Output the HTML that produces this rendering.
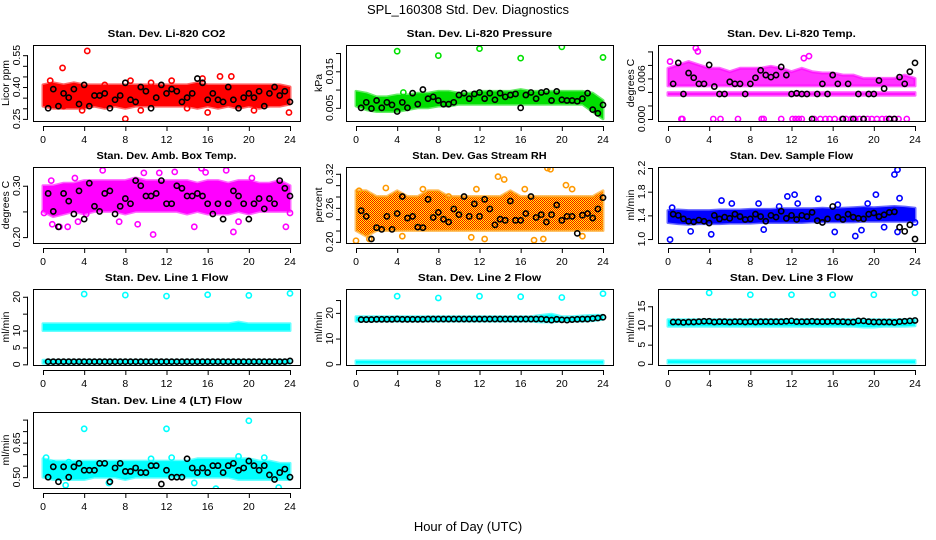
<!DOCTYPE html>
<html><head><meta charset="utf-8">
<style>
html,body{margin:0;padding:0;background:#fff;}
svg{display:block;font-family:"Liberation Sans",Arial,sans-serif;}
</style></head>
<body>
<svg id="chart" width="936" height="540" viewBox="0 0 936 540" xmlns="http://www.w3.org/2000/svg">
<defs>
<pattern id="rhpat" width="2" height="2" patternUnits="userSpaceOnUse"><rect width="2" height="2" fill="#ffff00"/><rect width="1" height="1" fill="#ff0000"/><rect x="1" y="1" width="1" height="1" fill="#ff0000"/></pattern>
</defs>
<text x="468" y="14" text-anchor="middle" font-size="13">SPL_160308  Std. Dev. Diagnostics</text>
<text x="468" y="531" text-anchor="middle" font-size="13">Hour of Day (UTC)</text>
</svg>
<script>
// ---------- data ----------
const hours = [0,1,2,3,4,5,6,7,8,9,10,11,12,13,14,15,16,17,18,19,20,21,22,23,24];
const blackHours = [0.5,1,1.5,2,2.5,3,3.5,4,4.5,5,5.5,6,6.5,7,7.5,8,8.5,9,9.5,10,10.5,11,11.5,12,12.5,13,13.5,14,14.5,15,15.5,16,16.5,17,17.5,18,18.5,19,19.5,20,20.5,21,21.5,22,22.5,23,23.5,24];

const co2Low  = [0.31,0.30,0.30,0.30,0.30,0.31,0.30,0.31,0.30,0.31,0.31,0.31,0.31,0.31,0.31,0.30,0.31,0.30,0.31,0.30,0.31,0.30,0.31,0.31,0.32];
const co2High = [0.41,0.42,0.41,0.42,0.41,0.41,0.41,0.41,0.41,0.41,0.41,0.41,0.41,0.41,0.41,0.42,0.41,0.41,0.41,0.41,0.41,0.41,0.41,0.41,0.40];
const co2OutX = [0.7,1.9,4.3,8,8.5,9.5,15.5,16,17.2,18.3,23.9,2,12.5,20.5,6,3.8,10.5,14];
const co2OutY = [0.43,0.49,0.57,0.25,0.43,0.29,0.44,0.28,0.45,0.45,0.28,0.31,0.43,0.29,0.41,0.29,0.42,0.30];
const co2Black = [0.30,0.39,0.31,0.37,0.35,0.39,0.32,0.41,0.31,0.36,0.36,0.37,0.30,0.34,0.36,0.42,0.34,0.33,0.40,0.38,0.30,0.35,0.41,0.37,0.39,0.38,0.33,0.35,0.37,0.44,0.42,0.34,0.37,0.34,0.33,0.40,0.34,0.30,0.35,0.37,0.35,0.38,0.31,0.37,0.40,0.36,0.38,0.33];

const presLow  = [0.0055,0.0045,0.0040,0.0040,0.0040,0.0045,0.0050,0.0050,0.0055,0.0055,0.0060,0.0060,0.0060,0.0060,0.0060,0.0060,0.0060,0.0060,0.0060,0.0060,0.0060,0.0060,0.0060,0.0040,0.0020];
const presHigh = [0.0095,0.0090,0.0080,0.0080,0.0085,0.0085,0.0090,0.0090,0.0095,0.0095,0.0090,0.0090,0.0095,0.0095,0.0095,0.0095,0.0100,0.0095,0.0095,0.0095,0.0095,0.0095,0.0095,0.0090,0.0070];
const presOutX = [4,8,12,16,20,24,4.6];
const presOutY = [0.0205,0.0193,0.0212,0.0186,0.0217,0.0188,0.0092];
const presBlack = [0.0050,0.0065,0.0048,0.0070,0.0050,0.0065,0.0058,0.0040,0.0065,0.0050,0.0090,0.0060,0.0100,0.0075,0.0080,0.0070,0.0060,0.0060,0.0065,0.0085,0.0090,0.0075,0.0088,0.0092,0.0075,0.0090,0.0072,0.0090,0.0080,0.0085,0.0088,0.0050,0.0085,0.0092,0.0075,0.0092,0.0095,0.0070,0.0095,0.0072,0.0070,0.0070,0.0068,0.0075,0.0090,0.0045,0.0035,0.0058];

const tempLow  = [0.0049,0.0049,0.0049,0.0049,0.0049,0.0049,0.0049,0.0049,0.0049,0.0049,0.0049,0.0049,0.0049,0.0049,0.0049,0.0049,0.0049,0.0049,0.0049,0.0049,0.0049,0.0049,0.0049,0.0049,0.0049];
const tempHigh = [0.0075,0.0080,0.0085,0.0080,0.0075,0.0075,0.0070,0.0075,0.0075,0.0075,0.0078,0.0075,0.0070,0.0075,0.0070,0.0068,0.0068,0.0065,0.0065,0.0060,0.0060,0.0060,0.0060,0.0065,0.0060];
const tempRowLow  = [0.0035,0.0035,0.0035,0.0035,0.0035,0.0035,0.0035,0.0035,0.0035,0.0035,0.0035,0.0035,0.0035,0.0035,0.0035,0.0035,0.0035,0.0035,0.0035,0.0035,0.0035,0.0035,0.0035,0.0035,0.0035];
const tempRowHigh = [0.0039,0.0039,0.0039,0.0039,0.0039,0.0039,0.0039,0.0039,0.0039,0.0039,0.0039,0.0039,0.0039,0.0039,0.0039,0.0039,0.0039,0.0039,0.0039,0.0039,0.0039,0.0039,0.0039,0.0039,0.0039];
const tempOutX = [1.3,1.4,4.4,5.1,6.8,9.1,9.3,11,12.1,12.4,12.7,13,14.2,14.8,15.3,15.7,16.2,16.9,17.3,17.8,18.2,18.6,19,19.4,19.8,20.3,20.8,21.2,21.6,22,22.4,23.2,2.7,2.9,0.2,13.2,13.7];
const tempOutY = [0,0,0,0,0,0,0,0,0,0,0,0,0,0,0,0,0,0,0,0,0,0,0,0,0,0,0,0,0,0,0,0,0.0105,0.0100,0.0085,0.0090,0.0093];
const tempBlack = [0.0052,0.0083,0.0037,0.0068,0.0061,0.0052,0.0052,0.0080,0.0048,0.0037,0.0037,0.0055,0.0052,0.0052,0.0037,0.0052,0.0061,0.0072,0.0065,0.0062,0.0065,0.0077,0.0065,0.0037,0.0038,0.0037,0.0037,0.0000,0.0037,0.0052,0.0037,0.0065,0.0052,0.0000,0.0052,0.0000,0.0037,0.0000,0.0037,0.0037,0.0057,0.0045,0.0000,0.0000,0.0062,0.0052,0.0070,0.0083];

const boxLow  = [0.25,0.24,0.245,0.25,0.245,0.25,0.25,0.25,0.245,0.25,0.25,0.25,0.25,0.25,0.245,0.25,0.245,0.245,0.245,0.25,0.245,0.25,0.25,0.25,0.25];
const boxHigh = [0.30,0.30,0.305,0.305,0.31,0.31,0.31,0.31,0.31,0.315,0.31,0.31,0.31,0.31,0.31,0.305,0.31,0.31,0.305,0.31,0.31,0.305,0.305,0.31,0.30];
const boxOutX = [0.1,0.9,1.6,2.4,3.4,4.2,5.8,7.4,9.2,10.7,11.3,12.8,15.4,15.8,17.8,18.5,18.7,19,23.6,24,14.7,20.3,0.8,3.1,9.8];
const boxOutY = [0.247,0.225,0.22,0.22,0.23,0.245,0.33,0.23,0.225,0.205,0.325,0.327,0.334,0.326,0.33,0.21,0.18,0.23,0.22,0.247,0.22,0.315,0.31,0.315,0.325];
const boxBlack = [0.285,0.25,0.22,0.285,0.27,0.245,0.29,0.235,0.305,0.26,0.25,0.285,0.29,0.245,0.26,0.275,0.265,0.31,0.3,0.28,0.28,0.285,0.31,0.265,0.265,0.3,0.295,0.28,0.28,0.285,0.28,0.265,0.245,0.265,0.235,0.265,0.29,0.28,0.265,0.235,0.265,0.275,0.255,0.275,0.265,0.31,0.295,0.28];

const rhLow  = [0.22,0.21,0.22,0.22,0.22,0.22,0.22,0.22,0.22,0.22,0.22,0.22,0.22,0.22,0.22,0.22,0.22,0.22,0.22,0.22,0.22,0.22,0.22,0.22,0.22];
const rhHigh = [0.29,0.29,0.28,0.28,0.29,0.28,0.28,0.29,0.29,0.28,0.28,0.28,0.28,0.28,0.28,0.29,0.28,0.28,0.28,0.28,0.28,0.28,0.28,0.28,0.29];
const rhOutX = [0,1.3,2.9,4.5,6.5,9,11.2,11.7,13.8,14.4,16.4,17.3,18.2,18.6,18.9,20.4,21,0.3,22,12.5];
const rhOutY = [0.202,0.205,0.295,0.21,0.293,0.28,0.208,0.293,0.315,0.31,0.293,0.203,0.205,0.33,0.328,0.3,0.293,0.29,0.21,0.205];
const rhBlack = [0.255,0.245,0.205,0.225,0.222,0.245,0.222,0.25,0.28,0.242,0.245,0.226,0.225,0.275,0.243,0.252,0.24,0.235,0.258,0.248,0.28,0.245,0.267,0.245,0.275,0.258,0.23,0.24,0.238,0.272,0.238,0.238,0.25,0.28,0.243,0.248,0.235,0.248,0.265,0.238,0.245,0.245,0.215,0.247,0.25,0.242,0.258,0.278];

const flowLow  = [1.28,1.26,1.25,1.26,1.26,1.26,1.27,1.27,1.27,1.28,1.28,1.28,1.28,1.28,1.29,1.29,1.29,1.29,1.29,1.30,1.30,1.30,1.30,1.30,1.30];
const flowHigh = [1.48,1.49,1.48,1.48,1.48,1.49,1.49,1.49,1.50,1.50,1.50,1.51,1.51,1.51,1.51,1.52,1.51,1.52,1.53,1.54,1.53,1.54,1.55,1.54,1.52];
const flowOutX = [0.2,0.4,2.2,4.2,5.2,6.2,8.8,9.3,10.8,11.6,12.3,12.6,14.6,16.5,16.2,18.2,18.8,20.2,21,22,22.3,22.5,22.3,24,19.4];
const flowOutY = [0.99,1.53,1.13,1.08,1.65,1.6,1.6,1.16,1.55,1.72,1.75,1.6,1.68,1.58,1.12,1.05,1.15,1.75,1.2,2.09,2.17,1.69,1.12,1.28,1.6];
const flowBlack = [1.42,1.40,1.34,1.30,1.29,1.32,1.30,1.27,1.40,1.34,1.37,1.35,1.42,1.38,1.33,1.34,1.42,1.38,1.30,1.40,1.37,1.47,1.35,1.40,1.33,1.40,1.38,1.45,1.31,1.28,1.34,1.55,1.37,1.33,1.42,1.37,1.35,1.34,1.42,1.44,1.38,1.41,1.45,1.46,1.20,1.13,1.24,1.00];

const l1Low  = [10.0,10.0,10.0,10.0,10.0,10.0,10.0,10.0,10.0,10.0,10.0,10.0,10.0,10.0,10.0,10.0,10.0,10.0,10.0,10.0,10.0,10.0,10.0,10.0,10.0];
const l1High = [12.0,12.0,12.0,12.0,12.0,12.0,12.0,12.0,12.0,12.0,12.0,12.0,12.0,12.0,12.0,12.0,12.0,12.0,12.0,12.5,12.0,12.0,12.0,12.0,12.0];
const l1RowLow  = [0.3,0.3,0.3,0.3,0.3,0.3,0.3,0.3,0.3,0.3,0.3,0.3,0.3,0.3,0.3,0.3,0.3,0.3,0.3,0.3,0.3,0.3,0.3,0.3,0.3];
const l1RowHigh = [1.2,1.2,1.2,1.2,1.2,1.2,1.2,1.2,1.2,1.2,1.2,1.2,1.2,1.2,1.2,1.2,1.2,1.2,1.2,1.2,1.2,1.2,1.2,1.2,1.2];
const l1OutX = [4,8,12,16,20,24];
const l1OutY = [20.8,20.5,20.2,20.6,20.4,21.0];
const l1Black = [0.8,0.8,0.8,0.8,0.8,0.8,0.8,0.8,0.8,0.8,0.8,0.8,0.8,0.8,0.8,0.8,0.8,0.8,0.8,0.8,0.8,0.8,0.8,0.8,0.8,0.8,0.8,0.8,0.8,0.8,0.8,0.8,0.8,0.8,0.8,0.8,0.8,0.8,0.8,0.8,0.8,0.8,0.8,0.8,0.8,0.8,0.8,1.0];

const l2Low  = [16.8,16.8,16.8,16.8,16.8,16.8,16.8,16.8,16.8,16.8,16.8,16.8,16.8,16.8,16.8,16.8,16.8,16.8,16.5,16.5,16.8,16.8,16.8,17.0,17.5];
const l2High = [18.5,18.5,18.5,18.5,18.5,18.5,18.5,18.5,18.5,18.5,18.5,18.5,18.5,18.5,18.5,18.5,18.5,18.5,19.0,19.5,18.5,18.5,18.8,19.0,19.0];
const l2RowLow  = [0.3,0.3,0.3,0.3,0.3,0.3,0.3,0.3,0.3,0.3,0.3,0.3,0.3,0.3,0.3,0.3,0.3,0.3,0.3,0.3,0.3,0.3,0.3,0.3,0.3];
const l2RowHigh = [1.3,1.3,1.3,1.3,1.3,1.3,1.3,1.3,1.3,1.3,1.3,1.3,1.3,1.3,1.3,1.3,1.3,1.3,1.3,1.3,1.3,1.3,1.3,1.3,1.3];
const l2OutX = [4,8,12,16,20,24];
const l2OutY = [26.5,25.8,26.5,26.3,26.0,27.5];
const l2Black = [17.4,17.4,17.4,17.5,17.5,17.5,17.5,17.6,17.5,17.5,17.5,17.5,17.5,17.6,17.6,17.6,17.6,17.6,17.6,17.6,17.6,17.6,17.6,17.6,17.6,17.6,17.6,17.6,17.6,17.6,17.6,17.6,17.6,17.6,17.6,17.6,17.4,17.2,17.5,17.3,17.2,17.4,17.5,17.6,17.6,17.8,18.0,18.3];

const l3Low  = [9.8,9.8,9.8,9.8,9.8,9.8,9.8,9.8,9.8,9.8,9.8,9.8,9.8,9.8,9.8,9.8,9.8,9.8,9.8,9.6,9.6,9.8,9.8,9.8,9.9];
const l3High = [11.5,11.5,11.5,11.5,11.5,11.5,11.5,11.5,11.5,11.5,11.5,11.5,11.5,11.5,11.5,11.5,11.5,11.5,11.5,11.5,11.5,11.5,11.5,11.5,11.6];
const l3RowLow  = [0.2,0.2,0.2,0.2,0.2,0.2,0.2,0.2,0.2,0.2,0.2,0.2,0.2,0.2,0.2,0.2,0.2,0.2,0.2,0.2,0.2,0.2,0.2,0.2,0.2];
const l3RowHigh = [0.9,0.9,0.9,0.9,0.9,0.9,0.9,0.9,0.9,0.9,0.9,0.9,0.9,0.9,0.9,0.9,0.9,0.9,0.9,0.9,0.9,0.9,0.9,0.9,0.9];
const l3OutX = [4,8,12,16,20,24];
const l3OutY = [18.5,18.0,18.0,18.0,18.0,18.5];
const l3Black = [10.9,10.9,10.8,10.9,10.9,11.0,11.1,11.1,10.9,11.0,11.0,10.9,11.0,11.0,10.9,11.0,10.9,11.0,11.0,11.0,11.0,11.0,11.1,11.2,11.0,11.0,11.0,11.1,11.0,11.0,11.0,11.1,11.0,11.0,10.9,10.9,11.2,11.2,11.0,10.9,10.9,10.9,10.9,10.8,11.0,11.1,11.2,11.3];

const l4Low  = [0.50,0.49,0.49,0.49,0.49,0.50,0.50,0.50,0.49,0.50,0.50,0.50,0.50,0.50,0.50,0.50,0.50,0.50,0.50,0.49,0.49,0.49,0.49,0.49,0.49];
const l4High = [0.58,0.57,0.57,0.57,0.57,0.57,0.57,0.57,0.57,0.57,0.57,0.57,0.57,0.57,0.57,0.58,0.58,0.58,0.58,0.58,0.58,0.57,0.57,0.56,0.56];
const l4OutX = [4,12,20,0.3,2.2,14.7,16.8,19,22.9,10.5,12.5,6.4,1.0,2.5,21.5];
const l4OutY = [0.71,0.71,0.745,0.585,0.465,0.475,0.45,0.59,0.455,0.58,0.585,0.475,0.56,0.565,0.585];
const l4Black = [0.50,0.545,0.48,0.545,0.50,0.545,0.56,0.53,0.53,0.53,0.56,0.56,0.48,0.54,0.56,0.525,0.525,0.54,0.52,0.52,0.55,0.55,0.47,0.53,0.50,0.50,0.50,0.58,0.54,0.52,0.54,0.52,0.55,0.55,0.52,0.55,0.56,0.53,0.54,0.57,0.55,0.53,0.55,0.51,0.49,0.52,0.535,0.50];

const xTicks = [0,4,8,12,16,20,24];

// ---------- panel layout (not data) ----------
const panels = [
 {name:'co2', title:'Stan. Dev. Li-820 CO2', ylab:'Licor ppm', col:0,row:0, ymin:0.240,ymax:0.598, ticks:[0.25,0.30,0.35,0.40,0.45,0.50,0.55], labels:[0.25,0.40,0.55], dec:2, color:'#ff0000', fill:'#ff0000', op:1, low:co2Low, high:co2High, outX:co2OutX, outY:co2OutY, black:co2Black},
 {name:'pressure', title:'Stan. Dev. Li-820 Pressure', ylab:'kPa', col:1,row:0, ymin:0.00139,ymax:0.0222, ticks:[0.005,0.010,0.015,0.020], labels:[0.005,0.015], dec:3, color:'#00e000', fill:'#00dd00', op:1, low:presLow, high:presHigh, outX:presOutX, outY:presOutY, black:presBlack},
 {name:'temp', title:'Stan. Dev. Li-820 Temp.', ylab:'degrees C', col:2,row:0, ymin:-0.0003,ymax:0.01095, ticks:[0,0.002,0.004,0.006,0.008,0.010], labels:[0,0.006], dec:3, color:'#ff00ff', fill:'#ff00ff', op:0.8, low:tempLow, high:tempHigh, low2:tempRowLow, high2:tempRowHigh, outX:tempOutX, outY:tempOutY, black:tempBlack},
 {name:'box-temp', title:'Stan. Dev. Amb. Box Temp.', ylab:'degrees C', col:0,row:1, ymin:0.1885,ymax:0.3365, ticks:[0.20,0.25,0.30], labels:[0.20,0.30], dec:2, color:'#ff00ff', fill:'#ff00ff', op:1, low:boxLow, high:boxHigh, outX:boxOutX, outY:boxOutY, black:boxBlack},
 {name:'rh', title:'Stan. Dev. Gas Stream RH', ylab:'percent', col:1,row:1, ymin:0.198,ymax:0.332, ticks:[0.20,0.22,0.24,0.26,0.28,0.30,0.32], labels:[0.20,0.26,0.32], dec:2, color:'#ff9900', fill:'url(#rhpat)', op:1, low:rhLow, high:rhHigh, outX:rhOutX, outY:rhOutY, black:rhBlack},
 {name:'sample-flow', title:'Stan. Dev. Sample Flow', ylab:'ml/min', col:2,row:1, ymin:0.933,ymax:2.217, ticks:[1.0,1.4,1.8,2.2], labels:[1.0,1.4,1.8,2.2], dec:1, color:'#0000ff', fill:'#0000ff', op:1, low:flowLow, high:flowHigh, outX:flowOutX, outY:flowOutY, black:flowBlack},
 {name:'line1', title:'Stan. Dev. Line 1 Flow', ylab:'ml/min', col:0,row:2, ymin:-0.2,ymax:22.3, ticks:[0,5,10,15,20], labels:[0,5,10,20], dec:0, color:'#00ffff', fill:'#00ffff', op:1, low:l1Low, high:l1High, low2:l1RowLow, high2:l1RowHigh, outX:l1OutX, outY:l1OutY, black:l1Black},
 {name:'line2', title:'Stan. Dev. Line 2 Flow', ylab:'ml/min', col:1,row:2, ymin:-0.3,ymax:29.3, ticks:[0,10,20,25], labels:[0,10,20], dec:0, color:'#00ffff', fill:'#00ffff', op:1, low:l2Low, high:l2High, low2:l2RowLow, high2:l2RowHigh, outX:l2OutX, outY:l2OutY, black:l2Black},
 {name:'line3', title:'Stan. Dev. Line 3 Flow', ylab:'ml/min', col:2,row:2, ymin:-0.3,ymax:19.5, ticks:[0,5,10,15], labels:[0,5,10,15], dec:0, color:'#00ffff', fill:'#00ffff', op:1, low:l3Low, high:l3High, low2:l3RowLow, high2:l3RowHigh, outX:l3OutX, outY:l3OutY, black:l3Black},
 {name:'line4', title:'Stan. Dev. Line 4 (LT) Flow', ylab:'ml/min', col:0,row:3, ymin:0.453,ymax:0.783, ticks:[0.50,0.55,0.60,0.65,0.70,0.75], labels:[0.50,0.65], dec:2, color:'#00ffff', fill:'#00ffff', op:1, low:l4Low, high:l4High, outX:l4OutX, outY:l4OutY, black:l4Black}
];
const colLeft = [33,346,658], boxW = 267;
const rowTop = [45,167,289,412], boxH = 76;

const svg = document.getElementById('chart');
const NS = 'http://www.w3.org/2000/svg';
function mk(tag, attrs, parent){
  const e = document.createElementNS(NS, tag);
  for (const k in attrs) e.setAttribute(k, attrs[k]);
  (parent||svg).appendChild(e);
  return e;
}

panels.forEach(p => {
  const L = colLeft[p.col], T = rowTop[p.row], R = L + boxW, B = T + boxH;
  const x0 = L + 10, x1 = R - 10;
  const xs = v => x0 + (v/24)*(x1-x0);
  const ys = v => B - (v - p.ymin)/(p.ymax - p.ymin)*(B - T);
  const g = mk('g', {});
  
  

  const t = mk('text', {x:(L+R)/2, y:T-8, 'text-anchor':'middle', 'font-size':10.5, 'font-weight':'bold', 'textLength':p.title.length*5.6, 'lengthAdjust':'spacingAndGlyphs'}, g);
  t.textContent = p.title;
  
  

  const clip = mk('clipPath', {id:'clip-'+p.name}, g);
  mk('rect', {x:L, y:T, width:boxW, height:boxH}, clip);
  const plot = mk('g', {'clip-path':'url(#clip-'+p.name+')'}, g);
  
  

  function band(lo, hi, label){
    let d = '';
    hours.forEach((h,i)=>{ d += (i?'L':'M') + xs(h).toFixed(1) + ' ' + ys(hi[i]).toFixed(1) + ' '; });
    for (let i = hours.length-1; i >= 0; i--) d += 'L' + xs(hours[i]).toFixed(1) + ' ' + ys(lo[i]).toFixed(1) + ' ';
    d += 'Z';
    const pa = mk('path', {d:d, fill:p.fill, 'fill-opacity':p.op, stroke:p.color, 'stroke-opacity':0.6, 'stroke-width':3, 'stroke-linejoin':'round'}, plot);
    
    
  }
  band(p.low, p.high, 'dense-cloud');
  if (p.low2) band(p.low2, p.high2, 'low-row');

  p.outX.forEach((xv,i)=>{
    const c = mk('circle', {cx:xs(xv), cy:ys(p.outY[i]), r:2.6, fill:'none', stroke:p.color, 'stroke-width':1.6}, plot);
    
    
  });
  p.black.forEach((yv,i)=>{
    const c = mk('circle', {cx:xs(blackHours[i]), cy:ys(yv), r:2.6, fill:'none', stroke:'#000', 'stroke-width':1.6}, plot);
    
    
  });

  const box = mk('rect', {x:L+0.5, y:T+0.5, width:boxW, height:boxH, fill:'none', stroke:'#000', 'stroke-width':1}, g);
  
  

  const xa = mk('g', {stroke:'#000','stroke-width':1}, g);
  
  
  mk('line', {x1:xs(0), x2:xs(24), y1:B+5.5, y2:B+5.5}, xa);
  xTicks.forEach(v=>{
    mk('line', {x1:xs(v)+0.5, x2:xs(v)+0.5, y1:B+5, y2:B+10}, xa);
    const tx = mk('text', {x:xs(v), y:B+22, 'text-anchor':'middle', 'font-size':10.5, stroke:'none', fill:'#000'}, xa);
    tx.textContent = v;
  });

  const ya = mk('g', {stroke:'#000','stroke-width':1}, g);
  
  
  const tmin = Math.min(...p.ticks), tmax = Math.max(...p.ticks);
  mk('line', {x1:L-5.5, x2:L-5.5, y1:ys(tmin), y2:ys(tmax)}, ya);
  p.ticks.forEach(v=>{
    mk('line', {x1:L-10, x2:L-5, y1:ys(v)+0.5, y2:ys(v)+0.5}, ya);
  });
  p.labels.forEach(v=>{
    const yy = ys(v);
    const tx = mk('text', {x:0, y:0, 'text-anchor':'middle', 'font-size':10.5, stroke:'none', fill:'#000', transform:'translate('+(L-13)+','+yy+') rotate(-90)'}, ya);
    tx.textContent = v.toFixed(p.dec);
  });
  const yl = mk('text', {x:0, y:0, 'text-anchor':'middle', 'font-size':10.5, fill:'#000', transform:'translate('+(L-24)+','+(T+boxH/2)+') rotate(-90)'}, g);
  yl.textContent = p.ylab;
  
  
});
</script>
</body></html>
